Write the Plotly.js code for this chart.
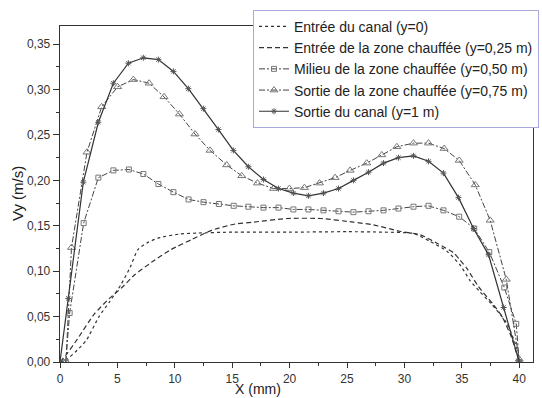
<!DOCTYPE html>
<html>
<head>
<meta charset="utf-8">
<script src="https://cdn.plot.ly/plotly-3.0.1.min.js"></script>
<style>html,body{margin:0;padding:0;background:#fff;}#chart{width:542px;height:398px;}</style>
</head>
<body>
<div id="chart"></div>
<script>
// Series names
const seriesNames = [
  "Entrée du canal (y=0)",
  "Entrée de la zone chauffée (y=0,25 m)",
  "Milieu de la zone chauffée (y=0,50 m)",
  "Sortie de la zone chauffée (y=0,75 m)",
  "Sortie du canal (y=1 m)"
];

// Entrée du canal (y=0)
const x0 = [0, 0.6, 1.5, 2.3, 3.4, 4.3, 5.3, 6.1, 6.8, 7.7, 8.7, 10.5, 12, 15, 20, 25, 28, 30.8, 32.2, 33.7, 34.9, 35.7, 36.6, 37.5, 38.9, 39.8, 40];
const v0 = [0, 0.003, 0.013, 0.024, 0.05, 0.066, 0.085, 0.104, 0.124, 0.132, 0.137, 0.141, 0.142, 0.143, 0.143, 0.1435, 0.143, 0.1415, 0.133, 0.122, 0.106, 0.09, 0.077, 0.065, 0.043, 0.015, 0];

// Entrée de la zone chauffée (y=0,25 m)
const x1 = [0, 0.6, 1.5, 3.0, 4.3, 5.4, 6.5, 8.0, 9.7, 11.5, 13.2, 15.25, 16.85, 19.75, 22.7, 25.56, 27.3, 29.6, 31.4, 32.8, 34.3, 34.86, 35.44, 36.45, 37.76, 38.5, 39.3, 40];
const v1 = [0, 0.009, 0.025, 0.053, 0.07, 0.082, 0.096, 0.11, 0.124, 0.135, 0.145, 0.152, 0.154, 0.158, 0.158, 0.154, 0.151, 0.144, 0.14, 0.131, 0.12, 0.112, 0.103, 0.083, 0.063, 0.05, 0.028, 0];

// Milieu de la zone chauffée (y=0,50 m)
const x2 = [0.5, 0.84, 2.06, 3.34, 4.65, 6.0, 7.26, 8.57, 9.88, 11.2, 12.5, 13.84, 15.13, 16.41, 17.72, 19.03, 20.33, 21.64, 22.95, 24.26, 25.56, 26.87, 28.18, 29.48, 30.79, 32.1, 33.4, 34.77, 36.08, 37.39, 38.7, 39.74, 40];
const v2 = [0, 0.054, 0.153, 0.203, 0.211, 0.212, 0.207, 0.196, 0.187, 0.179, 0.176, 0.174, 0.172, 0.171, 0.170, 0.170, 0.168, 0.168, 0.167, 0.166, 0.165, 0.166, 0.167, 0.169, 0.171, 0.172, 0.167, 0.160, 0.147, 0.121, 0.082, 0.042, 0];

// Sortie de la zone chauffée (y=0,75 m)
const x3 = [0.52, 1.0, 2.35, 3.63, 5.02, 6.39, 7.76, 9.06, 10.4, 11.76, 13.07, 14.52, 15.83, 17.2, 18.6, 19.98, 21.29, 22.6, 23.96, 25.27, 26.72, 28.03, 29.34, 30.79, 32.1, 33.46, 34.77, 36.17, 37.47, 38.87, 40.0];
const v3 = [0, 0.126, 0.231, 0.281, 0.303, 0.311, 0.307, 0.292, 0.273, 0.251, 0.233, 0.217, 0.205, 0.197, 0.191, 0.191, 0.192, 0.197, 0.203, 0.211, 0.219, 0.228, 0.237, 0.241, 0.241, 0.235, 0.222, 0.195, 0.156, 0.091, 0.003];

// Sortie du canal (y=1 m)
const x4 = [0, 0.72, 2.03, 3.34, 4.65, 5.96, 7.26, 8.57, 9.88, 11.18, 12.49, 13.8, 15.1, 16.41, 17.72, 19.03, 20.33, 21.64, 22.95, 24.26, 25.56, 26.87, 28.18, 29.48, 30.79, 32.1, 33.4, 34.71, 36.02, 37.33, 38.64, 40.0];
const v4 = [0, 0.07, 0.198, 0.264, 0.307, 0.329, 0.335, 0.333, 0.320, 0.301, 0.279, 0.256, 0.233, 0.215, 0.201, 0.191, 0.186, 0.183, 0.186, 0.191, 0.200, 0.209, 0.219, 0.225, 0.227, 0.221, 0.208, 0.181, 0.147, 0.118, 0.060, 0];

// Axis ticks and titles
const xTicks = [0, 5, 10, 15, 20, 25, 30, 35, 40];
const yTicks = [0, 0.05, 0.10, 0.15, 0.20, 0.25, 0.30, 0.35];
const xTitle = 'X (mm)';
const yTitle = 'Vy (m/s)';

const traces = [
  {x: x0, y: v0, name: seriesNames[0], mode: 'lines', line: {color: '#333', width: 1.2, dash: 'dot', shape: 'spline', smoothing: 0.6}},
  {x: x1, y: v1, name: seriesNames[1], mode: 'lines', line: {color: '#333', width: 1.2, dash: '5px,3px', shape: 'spline', smoothing: 0.6}},
  {x: x2, y: v2, name: seriesNames[2], mode: 'lines+markers', line: {color: '#444', width: 1, dash: '6px,2px,2px,2px'},
   marker: {symbol: 'square-open', size: 5, color: '#777', line: {width: 1}}},
  {x: x3, y: v3, name: seriesNames[3], mode: 'lines+markers', line: {color: '#444', width: 1, dash: '6px,2px,2px,2px'},
   marker: {symbol: 'triangle-up-open', size: 7, color: '#777', line: {width: 1}}},
  {x: x4, y: v4, name: seriesNames[4], mode: 'lines+markers', line: {color: '#333', width: 1.2},
   marker: {symbol: 'asterisk-open', size: 5, color: '#555', line: {width: 1, color: '#555'}}}
];

const FONT = 'Liberation Sans, Arial, sans-serif';
const axFont = {family: FONT, size: 12, color: '#333'};

// plot area: left 60, right 533 of 542 (margin.r = 0, domain trims right)
const layout = {
  width: 542, height: 398,
  margin: {l: 60, r: 0, t: 26, b: 36},
  paper_bgcolor: '#fff', plot_bgcolor: '#fff',
  separators: ', ',
  font: {family: FONT, color: '#222'},
  showlegend: true,
  legend: {
    x: 193 / 482, y: 1.048, xanchor: 'left', yanchor: 'top',
    bgcolor: '#fff', bordercolor: '#a8a8dc', borderwidth: 1,
    font: {family: FONT, size: 14, color: '#222'},
    tracegroupgap: 0, itemwidth: 30
  },
  xaxis: {
    domain: [0, 473 / 482],
    range: [0, 41.2], tickvals: xTicks, ticktext: xTicks.map(String),
    showgrid: false, zeroline: false, showline: true, linecolor: '#333', linewidth: 1.3,
    mirror: true, ticks: 'outside', ticklen: 5, tickcolor: '#333', tickwidth: 1,
    tickfont: axFont,
    minor: {dtick: 2.5, tick0: 0, ticks: 'outside', ticklen: 3, tickcolor: '#333', showgrid: false}
  },
  yaxis: {
    range: [0, 0.37], tickvals: yTicks, tickformat: '.2f',
    showgrid: false, zeroline: false, showline: true, linecolor: '#333', linewidth: 1.3,
    mirror: true, ticks: 'outside', ticklen: 6, tickcolor: '#333', tickwidth: 1,
    tickfont: axFont,
    minor: {dtick: 0.025, tick0: 0, ticks: 'outside', ticklen: 3, tickcolor: '#333', showgrid: false}
  },
  annotations: [
    {text: xTitle, xref: 'paper', yref: 'paper', x: 198 / 482, y: -36 / 336, xanchor: 'center', yanchor: 'bottom',
     borderpad: 0, showarrow: false, font: {family: FONT, size: 14, color: '#222'}},
    {text: yTitle, xref: 'paper', yref: 'paper', x: -43 / 482, y: 0.5, xanchor: 'center', yanchor: 'middle',
     textangle: -90, showarrow: false, font: {family: FONT, size: 15, color: '#222'}}
  ]
};

Plotly.newPlot('chart', traces, layout, {displayModeBar: false, staticPlot: true});
</script>
</body>
</html>
